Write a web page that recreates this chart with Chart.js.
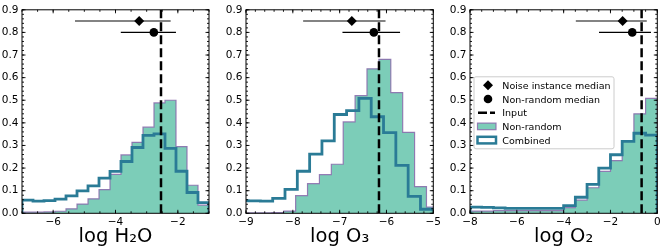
<!DOCTYPE html>
<html><head><meta charset="utf-8">
<script src="https://cdn.jsdelivr.net/npm/chart.js@4.4.1/dist/chart.umd.min.js"></script>
<style>
html,body{margin:0;padding:0;background:#fff;}
#wrap{position:relative;width:664px;height:250px;overflow:hidden;background:#fff;}
canvas{position:absolute;left:0;top:0;}
</style></head><body>
<div id="wrap">
<canvas id="c1" width="664" height="250"></canvas>
<canvas id="c2" width="664" height="250"></canvas>
<canvas id="c3" width="664" height="250"></canvas>
</div>
<script>
// ---------------- data ----------------
const yTicks = [0, 0.1, 0.2, 0.3, 0.4, 0.5, 0.6, 0.7, 0.8, 0.9];

// Panel 1: log H2O
const h2oTicks = [-6, -4, -2];
const h2oEdges = [-7.000, -6.647, -6.294, -5.941, -5.588, -5.235, -4.882, -4.529, -4.176,
                  -3.824, -3.471, -3.118, -2.765, -2.412, -2.059, -1.706, -1.353, -1.000];
const h2oNonRandom = [0.005, 0.005, 0.006, 0.009, 0.020, 0.041, 0.064, 0.105, 0.172,
                      0.258, 0.314, 0.381, 0.488, 0.500, 0.295, 0.124, 0.036];
const h2oCombined  = [0.058, 0.054, 0.056, 0.063, 0.077, 0.099, 0.121, 0.156, 0.185,
                      0.229, 0.291, 0.345, 0.351, 0.287, 0.186, 0.092, 0.047];

// Panel 2: log O3
const o3Ticks = [-9, -8, -7, -6, -5];
const o3NonRandomEdges = [-8.956, -8.702, -8.448, -8.194, -7.940, -7.686, -7.432, -7.178, -6.924,
                          -6.670, -6.416, -6.162, -5.908, -5.654, -5.400, -5.146, -4.892];
const o3NonRandom = [0.002, 0.002, 0.003, 0.010, 0.078, 0.131, 0.171, 0.217,
                     0.404, 0.520, 0.639, 0.681, 0.534, 0.358, 0.118, 0.027];
const o3CombinedEdges = [-9.219, -8.956, -8.693, -8.430, -8.167, -7.904, -7.641, -7.378, -7.115,
                         -6.852, -6.589, -6.326, -6.063, -5.800, -5.537, -5.274, -5.011, -4.748];
const o3Combined = [0.056, 0.055, 0.054, 0.066, 0.106, 0.186, 0.262, 0.320, 0.437,
                    0.454, 0.508, 0.427, 0.357, 0.212, 0.075, 0.018, 0.015];

// Panel 3: log O2
const o2Ticks = [-8, -6, -4, -2, 0];
const o2Edges = [-8.0, -7.5, -7.0, -6.5, -6.0, -5.5, -5.0, -4.5, -4.0,
                 -3.5, -3.0, -2.5, -2.0, -1.5, -1.0, -0.5, 0.0];
const o2NonRandom = [0.010, 0.010, 0.012, 0.012, 0.012, 0.012, 0.012, 0.012,
                     0.025, 0.058, 0.113, 0.185, 0.233, 0.322, 0.440, 0.508];
const o2Combined  = [0.027, 0.026, 0.024, 0.022, 0.022, 0.022, 0.022, 0.022,
                     0.034, 0.071, 0.128, 0.200, 0.259, 0.318, 0.354, 0.346];

// Medians with error ranges (H2O, O3, O2)
const noiseMedian   = [-3.24, -6.74, -1.48];
const noiseLow      = [-5.30, -7.78, -3.48];
const noiseHigh     = [-2.23, -6.02, -0.45];
const nonRandMedian = [-2.77, -6.27, -1.07];
const nonRandLow    = [-3.83, -6.94, -2.49];
const nonRandHigh   = [-2.06, -5.71, -0.27];
const inputValue    = [-2.54, -6.16, -0.67];

const titles = ['log H\u2082O', 'log O\u2083', 'log O\u2082'];

// ---------------- styles ----------------
const GREEN_FILL = 'rgb(124,205,184)';
const GREEN_EDGE = 'rgba(135,105,170,0.85)';
const BLUE = 'rgb(42,123,150)';
const GREY = 'rgb(90,90,90)';
const FONT = "'DejaVu Sans', sans-serif";
Chart.defaults.font.family = FONT;
Chart.defaults.color = '#000';

function stepData(edges, vals) {
  const pts = [{x: edges[0], y: 0}];
  for (let i = 0; i < vals.length; i++) pts.push({x: edges[i], y: vals[i]});
  pts.push({x: edges[vals.length], y: vals[vals.length - 1]});
  pts.push({x: edges[vals.length], y: 0});
  return pts;
}
function fmtX(v) { return v < 0 ? '\u2212' + Math.abs(v) : String(v); }

const frameTicks = {
  id: 'frameTicks',
  afterDraw(chart) {
    const o = chart.options.plugins.frameTicks || {};
    const {ctx, chartArea: a} = chart;
    const xs = chart.scales.x, ys = chart.scales.y;
    ctx.save();
    ctx.strokeStyle = '#000';
    ctx.lineWidth = 0.9;
    ctx.beginPath();
    const minorVals = (min, max, step) => {
      const out = [];
      for (let k = Math.ceil(min / step - 1e-9); k * step <= max + 1e-9; k++) out.push(k * step);
      return out;
    };
    const xt = (vals, len) => vals.forEach(v => {
      const px = xs.getPixelForValue(v);
      if (px < a.left - 0.5 || px > a.right + 0.5) return;
      ctx.moveTo(px, a.bottom); ctx.lineTo(px, a.bottom - len);
      ctx.moveTo(px, a.top); ctx.lineTo(px, a.top + len);
    });
    const yt = (vals, len) => vals.forEach(v => {
      const py = ys.getPixelForValue(v);
      ctx.moveTo(a.left, py); ctx.lineTo(a.left + len, py);
      ctx.moveTo(a.right, py); ctx.lineTo(a.right - len, py);
    });
    xt(o.xMajor || [], 3.5);
    xt(minorVals(xs.min, xs.max, o.xMinor), 2);
    yt(yTicks, 3.5);
    yt(minorVals(0, 0.9, 0.02), 2);
    ctx.stroke();
    ctx.lineWidth = 1;
    ctx.strokeRect(a.left, a.top, a.right - a.left, a.bottom - a.top);

    if (o.legend) {
      const L = a.left + 4, T = a.top + 67;
      ctx.fillStyle = 'rgba(255,255,255,0.85)';
      ctx.strokeStyle = '#cccccc';
      ctx.lineWidth = 1;
      ctx.beginPath();
      ctx.roundRect(L, T, 140, 72, 2);
      ctx.fill(); ctx.stroke();
      const rows = [0, 1, 2, 3, 4].map(i => T + 8.5 + 13.7 * i);
      const mx = L + 14;
      ctx.fillStyle = '#000';
      ctx.beginPath();
      ctx.moveTo(mx - 5, rows[0]); ctx.lineTo(mx, rows[0] - 5);
      ctx.lineTo(mx + 5, rows[0]); ctx.lineTo(mx, rows[0] + 5); ctx.closePath(); ctx.fill();
      ctx.beginPath(); ctx.arc(mx, rows[1], 4.3, 0, Math.PI * 2); ctx.fill();
      ctx.strokeStyle = '#000'; ctx.lineWidth = 2.5; ctx.setLineDash([9, 3]);
      ctx.beginPath(); ctx.moveTo(L + 4, rows[2]); ctx.lineTo(L + 21, rows[2]); ctx.stroke();
      ctx.setLineDash([]);
      ctx.fillStyle = GREEN_FILL; ctx.strokeStyle = GREEN_EDGE; ctx.lineWidth = 1.2;
      ctx.fillRect(L + 3.5, rows[3] - 3.3, 18.5, 6.6); ctx.strokeRect(L + 3.5, rows[3] - 3.3, 18.5, 6.6);
      ctx.fillStyle = '#fff'; ctx.strokeStyle = BLUE; ctx.lineWidth = 2.5;
      ctx.fillRect(L + 3.5, rows[4] - 3.3, 18.5, 6.6); ctx.strokeRect(L + 3.5, rows[4] - 3.3, 18.5, 6.6);
      ctx.fillStyle = '#000';
      ctx.font = '9.5px ' + FONT;
      ctx.textBaseline = 'alphabetic';
      ctx.textAlign = 'left';
      const labels = ['Noise instance median', 'Non-random median', 'Input', 'Non-random', 'Combined'];
      labels.forEach((t, i) => ctx.fillText(t, L + 28.3, rows[i] + 3.6));
    }
    ctx.restore();
  }
};
Chart.register(frameTicks);

const panels = [
  {id: 'c1', left: 22, right: 209, xmin: -7, xmax: -1, ticks: h2oTicks, minor: 0.5,
   gE: h2oEdges, gV: h2oNonRandom, bE: h2oEdges, bV: h2oCombined, legend: false},
  {id: 'c2', left: 246, right: 433.3, xmin: -9, xmax: -5, ticks: o3Ticks, minor: 0.2,
   gE: o3NonRandomEdges, gV: o3NonRandom, bE: o3CombinedEdges, bV: o3Combined, legend: false},
  {id: 'c3', left: 470, right: 657.3, xmin: -8, xmax: 0, ticks: o2Ticks, minor: 0.5,
   gE: o2Edges, gV: o2NonRandom, bE: o2Edges, bV: o2Combined, legend: true}
];

const YW = 22;
panels.forEach((p, i) => {
  new Chart(document.getElementById(p.id), {
    type: 'line',
    data: {
      datasets: [
        {label: 'Input', data: [{x: inputValue[i], y: 0}, {x: inputValue[i], y: 0.9}],
         borderColor: '#000', borderWidth: 2.5, borderDash: [9, 4], pointRadius: 0, order: 0},
        {label: 'Noise instance median', data: [{x: noiseMedian[i], y: 0.85}],
         showLine: false, pointStyle: 'rectRot', pointRadius: 5, backgroundColor: '#000',
         borderColor: '#000', borderWidth: 0, order: 1},
        {label: 'Non-random median', data: [{x: nonRandMedian[i], y: 0.8}],
         showLine: false, pointStyle: 'circle', pointRadius: 4.3, backgroundColor: '#000',
         borderColor: '#000', borderWidth: 0, order: 1},
        {label: 'noise err', data: [{x: noiseLow[i], y: 0.85}, {x: noiseHigh[i], y: 0.85}],
         borderColor: GREY, borderWidth: 1.5, pointRadius: 0, order: 2},
        {label: 'nonrandom err', data: [{x: nonRandLow[i], y: 0.8}, {x: nonRandHigh[i], y: 0.8}],
         borderColor: '#000', borderWidth: 1.3, pointRadius: 0, order: 2},
        {label: 'Combined', data: stepData(p.bE, p.bV), stepped: 'before',
         borderColor: BLUE, borderWidth: 2.8, pointRadius: 0, fill: false, order: 3, clip: 0},
        {label: 'Non-random', data: stepData(p.gE, p.gV), stepped: 'before',
         borderColor: GREEN_EDGE, borderWidth: 1.2, backgroundColor: GREEN_FILL,
         pointRadius: 0, fill: 'origin', order: 4, clip: 0}
      ]
    },
    options: {
      responsive: false, animation: false, events: [],
      layout: {padding: {left: p.left - YW, right: 664 - p.right, top: 7.3, bottom: 0}},
      plugins: {legend: {display: false}, tooltip: {enabled: false},
                frameTicks: {xMajor: p.ticks, xMinor: p.minor, legend: p.legend}},
      scales: {
        x: {type: 'linear', min: p.xmin, max: p.xmax,
            afterBuildTicks: s => { s.ticks = p.ticks.map(v => ({value: v})); },
            afterFit: s => { s.height = 36.7; },
            grid: {display: false, drawTicks: false}, border: {display: false},
            ticks: {autoSkip: false, maxRotation: 0, minRotation: 0, padding: 3,
                    font: {size: 10.5}, color: '#000', callback: v => fmtX(v)},
            title: {display: true, text: titles[i], color: '#000',
                    font: {size: 19.5}, padding: {top: 0, bottom: 1}}},
        y: {type: 'linear', min: 0, max: 0.9,
            afterBuildTicks: s => { s.ticks = yTicks.map(v => ({value: v})); },
            afterFit: s => { s.width = YW; },
            grid: {display: false, drawTicks: false}, border: {display: false},
            ticks: {padding: 3.5, font: {size: 10.5}, color: '#000', callback: v => v.toFixed(1)}}
      }
    }
  });
});
</script>
</body></html>
